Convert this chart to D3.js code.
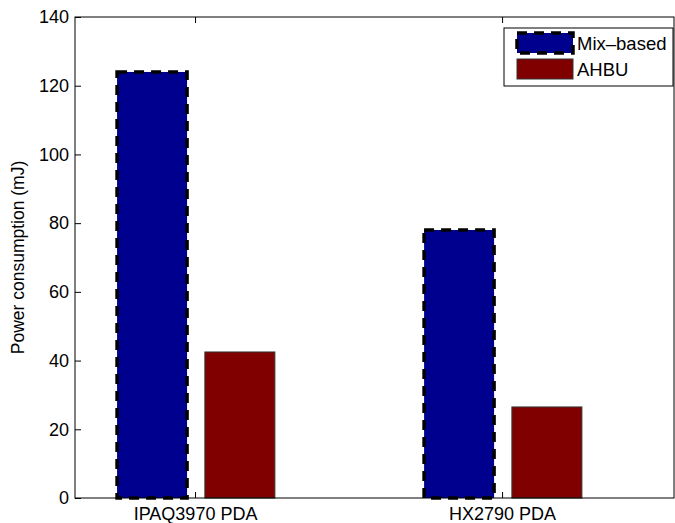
<!DOCTYPE html>
<html>
<head>
<meta charset="utf-8">
<script src="https://cdn.jsdelivr.net/npm/d3@7"></script>
<style>
  html, body { margin: 0; padding: 0; background: #fff; }
  svg { display: block; font-family: "Liberation Sans", Arial, Helvetica, sans-serif; }
</style>
</head>
<body>
<svg id="chart" width="675" height="523"></svg>
<script>
// Device categories and the two methods compared
const categories = ["IPAQ3970 PDA", "HX2790 PDA"];
const seriesNames = ["Mix\u2013based", "AHBU"];
const mixBased = [124, 78];
const ahbu = [42.5, 26.5];
const yTicks = [0, 20, 40, 60, 80, 100, 120, 140];

const svg = d3.select("#chart");
const plotLeft = 75, plotRight = 674, plotTop = 17, plotBottom = 498;
const fontFamily = "Liberation Sans, Arial, sans-serif";

// Group positions are 1 and 2 along x, MATLAB-style
const x = d3.scaleLinear().domain([0.609, 2.56]).range([plotLeft, plotRight]);
const y = d3.scaleLinear().domain([0, 140]).range([plotBottom, plotTop]);

const barW = 0.228;
const offsets = [-0.14, 0.146];
const series = [
  { name: seriesNames[0], values: mixBased, fill: "#00008f", stroke: "#000", width: 3.5, dash: "10,7" },
  { name: seriesNames[1], values: ahbu, fill: "#800000", stroke: "#333", width: 1, dash: null }
];

// Bars
series.forEach((s, si) => {
  svg.append("g").selectAll("rect")
    .data(s.values)
    .join("rect")
    .attr("x", (d, i) => x(i + 1 + offsets[si] - barW / 2))
    .attr("width", x(barW) - x(0))
    .attr("y", d => y(d))
    .attr("height", d => y(0) - y(d))
    .attr("fill", s.fill)
    .attr("stroke", s.stroke)
    .attr("stroke-width", s.width)
    .attr("stroke-dasharray", s.dash);
});

// Axes box
svg.append("rect")
  .attr("x", plotLeft).attr("y", plotTop)
  .attr("width", plotRight - plotLeft).attr("height", plotBottom - plotTop)
  .attr("fill", "none").attr("stroke", "#000").attr("stroke-width", 1);

// Y ticks (inward) and labels
const tickLen = 6;
const yAxis = d3.axisLeft(y).tickValues(yTicks).tickSizeInner(-tickLen).tickSizeOuter(0).tickPadding(6);
const gy = svg.append("g").attr("transform", `translate(${plotLeft},0)`).call(yAxis)
  .attr("font-size", 18).attr("font-family", fontFamily);
gy.select(".domain").remove();
gy.selectAll("text").attr("fill", "#000");
gy.selectAll("line").attr("stroke", "#000");

// X ticks (inward, bottom and top) and category labels
const xAxis = d3.axisBottom(x).tickValues([1, 2]).tickFormat((d) => categories[d - 1])
  .tickSizeInner(-tickLen).tickSizeOuter(0).tickPadding(9);
const gx = svg.append("g").attr("transform", `translate(0,${plotBottom})`).call(xAxis)
  .attr("font-size", 18).attr("font-family", fontFamily);
gx.select(".domain").remove();
gx.selectAll("text").attr("fill", "#000");
gx.selectAll("line").attr("stroke", "#000");

const gxTop = svg.append("g").attr("transform", `translate(0,${plotTop})`)
  .call(d3.axisTop(x).tickValues([1, 2]).tickFormat("").tickSizeInner(-tickLen).tickSizeOuter(0));
gxTop.select(".domain").remove();
gxTop.selectAll("line").attr("stroke", "#000");

// Y axis title
svg.append("text")
  .attr("transform", `translate(24,${(plotTop + plotBottom) / 2}) rotate(-90)`)
  .attr("text-anchor", "middle")
  .attr("font-size", 17.5)
  .attr("fill", "#000")
  .text("Power consumption (mJ)");

// Legend
const lg = svg.append("g");
lg.append("rect").attr("x", 504).attr("y", 28).attr("width", 169).attr("height", 58)
  .attr("fill", "#fff").attr("stroke", "#000").attr("stroke-width", 1);
series.forEach((s, i) => {
  const yy = 33 + i * 26;
  lg.append("rect").attr("x", 517).attr("y", yy).attr("width", 56).attr("height", 20)
    .attr("fill", s.fill).attr("stroke", s.stroke)
    .attr("stroke-width", s.width).attr("stroke-dasharray", s.dash);
  lg.append("text").attr("x", 577).attr("y", yy + 17)
    .attr("font-size", 18.5).attr("fill", "#000").text(s.name);
});
</script>
</body>
</html>
